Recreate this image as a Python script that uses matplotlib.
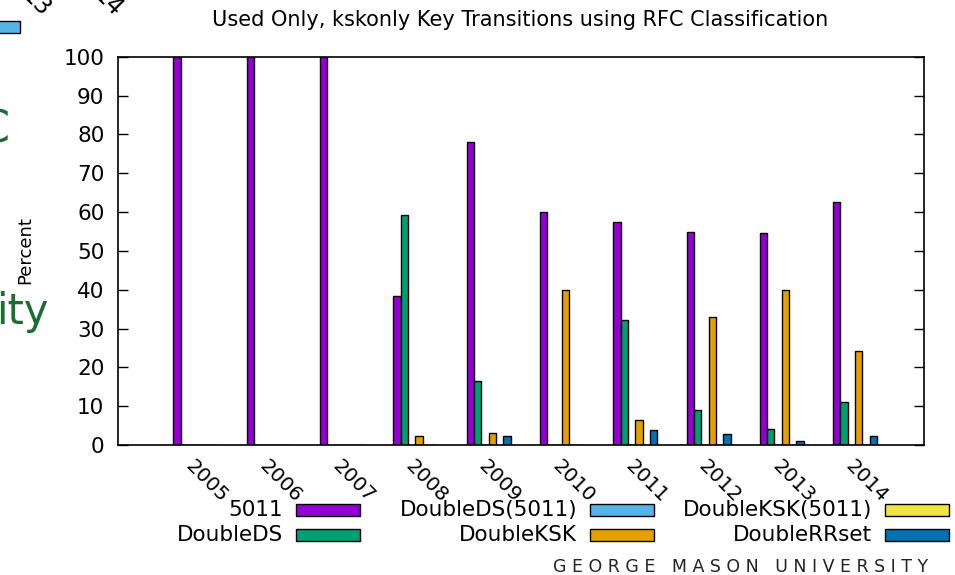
import numpy as np
import matplotlib.pyplot as plt
from matplotlib.patches import Rectangle

# Data (percent per year)
years = ["2005", "2006", "2007", "2008", "2009", "2010", "2011", "2012", "2013", "2014"]
series_names = ["5011", "DoubleDS", "DoubleDS(5011)", "DoubleKSK", "DoubleKSK(5011)", "DoubleRRset"]
v_5011 = [100, 100, 100, 38.4, 78.0, 60.1, 57.5, 54.9, 54.7, 62.5]
v_doubleds = [0, 0, 0, 59.2, 16.6, 0, 32.1, 9.1, 4.1, 11.0]
v_doubleds_5011 = [0, 0, 0, 0, 0, 0, 0, 0, 0, 0]
v_doubleksk = [0, 0, 0, 2.4, 3.0, 40.0, 6.4, 33.0, 39.9, 24.1]
v_doubleksk_5011 = [0, 0, 0, 0, 0, 0, 0, 0, 0, 0]
v_doublerrset = [0, 0, 0, 0, 2.3, 0, 3.9, 2.9, 1.0, 2.4]

series_values = [v_5011, v_doubleds, v_doubleds_5011, v_doubleksk, v_doubleksk_5011, v_doublerrset]
colors = ["#9400d3", "#009e73", "#56b4e9", "#e69f00", "#f0e442", "#0072b2"]

fig = plt.figure(figsize=(9.55, 5.75), dpi=100)
ax = fig.add_axes([0.1239, 0.2261, 0.8437, 0.6753])

x = np.arange(len(years))
bw = 0.1
for i, (vals, col) in enumerate(zip(series_values, colors)):
    ax.bar(x + (i - 2.5) * bw, vals, width=bw, color=col, edgecolor="black", linewidth=1.0)

ax.set_xlim(-1.05, 9.94)
ax.set_ylim(0, 100)
ax.set_yticks(np.arange(0, 101, 10))
ax.tick_params(axis="y", direction="in", length=7, width=1, labelsize=15.5, pad=10,
               right=True)
ax.set_xticks(x)
ax.set_xticklabels(years, rotation=-45, ha="left", va="top", rotation_mode="anchor", fontsize=14.5)
ax.tick_params(axis="x", length=0, pad=8)
for s in ax.spines.values():
    s.set_linewidth(1.2)

fig.text(0.545, 1 - 20 / 575, "Used Only, kskonly Key Transitions using RFC Classification",
         ha="center", va="center", fontsize=15)
fig.text(0.026, 0.565, "Percent", rotation=90, ha="center", va="center", fontsize=13)

# legend drawn gnuplot-style: text right-aligned, swatch to its right
leg_text_x = [283, 577, 872]
leg_box_x = [296, 590, 885]
leg_y = [510, 535]
for k, (name, col) in enumerate(zip(series_names, colors)):
    c, r = k // 2, k % 2
    fig.text(leg_text_x[c] / 955, 1 - leg_y[r] / 575, name, ha="right", va="center", fontsize=15.5)
    fig.patches.append(Rectangle((leg_box_x[c] / 955, 1 - (leg_y[r] + 6) / 575), 64 / 955, 12 / 575,
                                 transform=fig.transFigure, facecolor=col, edgecolor="black",
                                 linewidth=1.0))

fig.text(0.9715, 1 - 567 / 575, "G E O R G E   M A S O N   U N I V E R S I T Y", ha="right",
         va="center", fontsize=12.5, color="#222222")

# pieces of the slide behind the chart, visible at the left edge
green = "#1d6b35"
fig.text(-0.023, 1 - 130 / 575, "C", ha="left", va="center", fontsize=32, color=green)
fig.text(-0.004, 1 - 312 / 575, "ity", ha="left", va="center", fontsize=30, color=green)
fig.text(36 / 955, 1 - 3 / 575, "13", rotation=-45, ha="center", va="center",
         rotation_mode="anchor", fontsize=17)
fig.text(108 / 955, 1 - 3 / 575, "14", rotation=-45, ha="center", va="center",
         rotation_mode="anchor", fontsize=17)
fig.patches.append(Rectangle((-0.01, 1 - 33 / 575), 30 / 955, 12 / 575, transform=fig.transFigure,
                             facecolor="#56b4e9", edgecolor="black", linewidth=1.0))

fig.savefig("out.png", dpi=100)
